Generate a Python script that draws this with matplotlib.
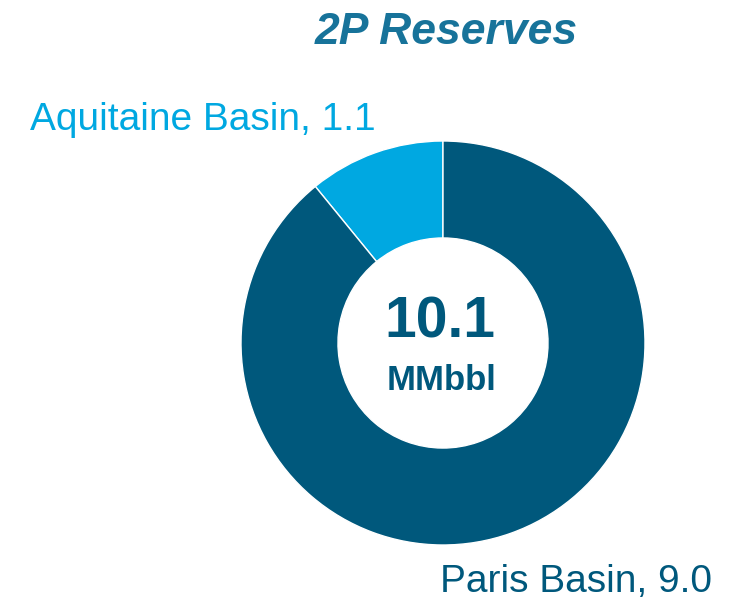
import matplotlib
matplotlib.use("Agg")
import matplotlib.pyplot as plt

categories = ["Aquitaine Basin", "Paris Basin"]
values = [1.1, 9.0]
colors = ["#00a8e1", "#00587c"]
total_label = "10.1"
unit_label = "MMbbl"
title = "2P Reserves"

W, H = 744, 609
fig = plt.figure(figsize=(W / 100, H / 100), dpi=100)

cx, cy, r = 443, 343, 202
ax = fig.add_axes([(cx - r) / W, (H - cy - r) / H, 2 * r / W, 2 * r / H])
ax.pie(values, colors=colors, startangle=90, counterclock=True, radius=1.0,
       wedgeprops=dict(width=0.48, edgecolor="white", linewidth=1))
ax.set_xlim(-1, 1)
ax.set_ylim(-1, 1)
ax.set_aspect("equal")
ax.axis("off")

narrow = ["Liberation Sans Narrow", "Liberation Sans", "DejaVu Sans"]

def fx(x):
    return x / W

def fy(y):
    return 1 - y / H

fig.text(fx(446), fy(33), title, ha="center", va="center", fontsize=32,
         fontweight="bold", fontstyle="italic", color="#17739a", family=narrow)
fig.text(fx(30), fy(120), f"{categories[0]}, {values[0]}", ha="left", va="center",
         fontsize=28, color=colors[0], family=narrow)
fig.text(fx(440), fy(582), f"{categories[1]}, {values[1]:.1f}", ha="left", va="center",
         fontsize=28, color=colors[1], family=narrow)
fig.text(fx(440), fy(322), total_label, ha="center", va="center", fontsize=41,
         fontweight="bold", color=colors[1], family=narrow)
fig.text(fx(442), fy(380), unit_label, ha="center", va="center", fontsize=25,
         fontweight="bold", color=colors[1], family=narrow)

fig.savefig("out.png", dpi=100, facecolor="white")
